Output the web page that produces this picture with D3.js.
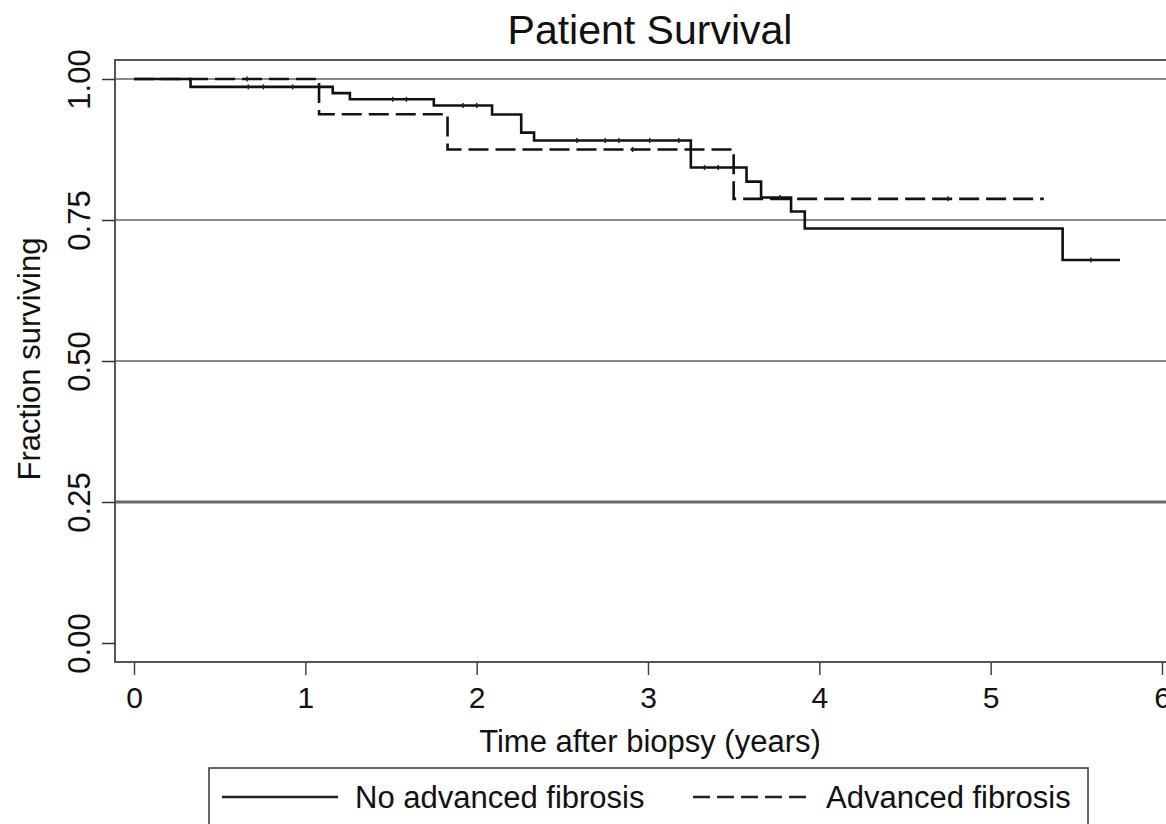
<!DOCTYPE html>
<html>
<head>
<meta charset="utf-8">
<script src="https://cdn.jsdelivr.net/npm/d3@7"></script>
<style>
  html, body { margin: 0; padding: 0; background: #fff; }
  svg { display: block; }
  text { font-family: "Liberation Sans", Arial, Helvetica, sans-serif; fill: #111; }
</style>
</head>
<body>
<svg id="chart" width="1166" height="824"></svg>
<script>
// ---- data ----
const title = "Patient Survival";
const xLabel = "Time after biopsy (years)";
const yLabel = "Fraction surviving";
const xTicks = [0, 1, 2, 3, 4, 5, 6];
const yTicks = [0, 0.25, 0.5, 0.75, 1];
const yTickLabels = ["0.00", "0.25", "0.50", "0.75", "1.00"];
const seriesNames = ["No advanced fibrosis", "Advanced fibrosis"];

// Kaplan-Meier steps: No advanced fibrosis
const noAdvTimes = [0, 0.33, 1.16, 1.26, 1.75, 2.09, 2.26, 2.335, 3.25, 3.575, 3.66, 3.835, 3.915, 5.42];
const noAdvSurv  = [1.0, 0.986, 0.975, 0.964, 0.953, 0.937, 0.905, 0.891, 0.843, 0.818, 0.790, 0.765, 0.735, 0.679];
const noAdvEnd = 5.755;
const noAdvCensor = [0.667, 0.755, 0.926, 1.51, 1.59, 1.92, 2.0, 2.585, 2.75, 2.83, 3.01, 3.18, 3.33, 3.41, 3.77, 5.585];

// Kaplan-Meier steps: Advanced fibrosis
const advTimes = [0, 1.08, 1.83, 3.50];
const advSurv  = [1.0, 0.9375, 0.875, 0.7875];
const advEnd = 5.31;
const advCensor = [0.66, 2.91, 4.75];

// ---- drawing ----
const svg = d3.select("#chart");
const x = d3.scaleLinear().domain([0, 6]).range([134, 1162]);
const y = d3.scaleLinear().domain([0, 1]).range([643, 79]);

const frameL = 115, frameT = 60, frameB = 662, frameR = 1180;

// gridlines
svg.append("g").selectAll("line").data(yTicks.filter(d => d > 0)).join("line")
  .attr("x1", frameL).attr("x2", frameR)
  .attr("y1", d => y(d)).attr("y2", d => y(d))
  .attr("stroke", d => d === 0.25 ? "#6a6a6a" : "#8a8a8a")
  .attr("stroke-width", d => d === 0.25 ? 3 : 2);

// frame
svg.append("rect")
  .attr("x", frameL).attr("y", frameT)
  .attr("width", frameR - frameL).attr("height", frameB - frameT)
  .attr("fill", "none").attr("stroke", "#555").attr("stroke-width", 2);

// y axis
const yAxis = d3.axisLeft(y).tickValues(yTicks).tickSize(13)
  .tickFormat((d, i) => yTickLabels[i]);
const gy = svg.append("g").attr("transform", `translate(${frameL},0)`).call(yAxis);
gy.select(".domain").remove();
gy.selectAll(".tick line").attr("stroke", "#333").attr("stroke-width", 1.5);
gy.selectAll(".tick text")
  .attr("x", 0).attr("dy", null).attr("y", 0)
  .attr("transform", "translate(-25,0) rotate(-90)")
  .attr("text-anchor", "middle")
  .style("font-size", "31px")
  .attr("fill", "#111");

// x axis
const xAxis = d3.axisBottom(x).tickValues(xTicks).tickSize(13).tickFormat(d3.format("d"));
const gx = svg.append("g").attr("transform", `translate(0,${frameB})`).call(xAxis);
gx.select(".domain").remove();
gx.selectAll(".tick line").attr("stroke", "#444").attr("stroke-width", 1.5);
gx.selectAll(".tick text")
  .attr("y", 46).attr("dy", null)
  .style("font-size", "30px")
  .attr("fill", "#111");

// curves
function steps(times, surv, end) {
  const pts = times.map((t, i) => [t, surv[i]]);
  pts.push([end, surv[surv.length - 1]]);
  return pts;
}
function survAt(times, surv, t) {
  let s = surv[0];
  for (let i = 0; i < times.length; i++) if (times[i] <= t) s = surv[i];
  return s;
}
const line = d3.line().x(d => x(d[0])).y(d => y(d[1])).curve(d3.curveStepAfter);

svg.append("path").datum(steps(advTimes, advSurv, advEnd))
  .attr("d", line).attr("fill", "none").attr("stroke", "#111")
  .attr("stroke-width", 2.6).attr("stroke-dasharray", "20,7");

svg.append("path").datum(steps(noAdvTimes, noAdvSurv, noAdvEnd))
  .attr("d", line).attr("fill", "none").attr("stroke", "#111")
  .attr("stroke-width", 2.6);

// censor marks
svg.append("g").selectAll("line").data(noAdvCensor).join("line")
  .attr("x1", d => x(d)).attr("x2", d => x(d))
  .attr("y1", d => y(survAt(noAdvTimes, noAdvSurv, d)) - 2.5)
  .attr("y2", d => y(survAt(noAdvTimes, noAdvSurv, d)) + 2.5)
  .attr("stroke", "#222").attr("stroke-width", 1.5);
svg.append("g").selectAll("line").data(advCensor).join("line")
  .attr("x1", d => x(d)).attr("x2", d => x(d))
  .attr("y1", d => y(survAt(advTimes, advSurv, d)) - 2.5)
  .attr("y2", d => y(survAt(advTimes, advSurv, d)) + 2.5)
  .attr("stroke", "#222").attr("stroke-width", 1.5);

// title
svg.append("text").attr("x", 650).attr("y", 44)
  .attr("text-anchor", "middle").style("font-size", "41px").text(title);

// axis titles
svg.append("text").attr("x", 650).attr("y", 752)
  .attr("text-anchor", "middle").style("font-size", "31px").text(xLabel);
svg.append("text")
  .attr("transform", "translate(40,359) rotate(-90)")
  .attr("text-anchor", "middle").style("font-size", "31px").text(yLabel);

// legend
const lg = svg.append("g");
lg.append("rect").attr("x", 209).attr("y", 768).attr("width", 879).attr("height", 80)
  .attr("fill", "#fff").attr("stroke", "#333").attr("stroke-width", 1.5);
lg.append("line").attr("x1", 222).attr("x2", 338).attr("y1", 797).attr("y2", 797)
  .attr("stroke", "#222").attr("stroke-width", 2.6);
lg.append("text").attr("x", 355).attr("y", 808).style("font-size", "31px").text(seriesNames[0]);
lg.append("line").attr("x1", 693).attr("x2", 808).attr("y1", 797).attr("y2", 797)
  .attr("stroke", "#222").attr("stroke-width", 2.6).attr("stroke-dasharray", "17,7");
lg.append("text").attr("x", 826).attr("y", 808).style("font-size", "31px").text(seriesNames[1]);
</script>
</body>
</html>
